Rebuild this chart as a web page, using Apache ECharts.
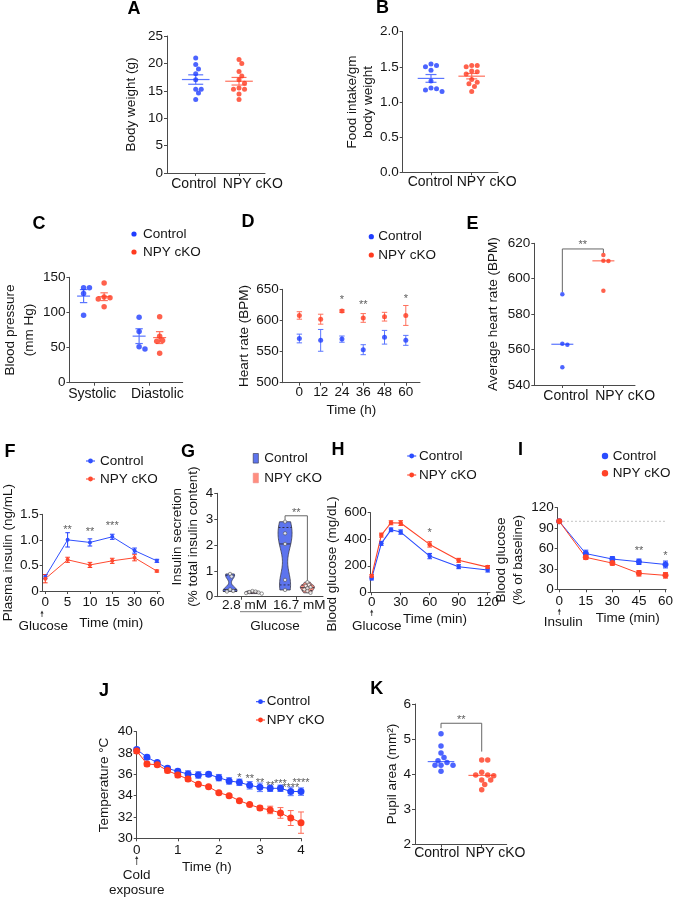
<!DOCTYPE html>
<html><head><meta charset="utf-8">
<script src="https://cdn.jsdelivr.net/npm/echarts@6/dist/echarts.min.js"></script>
<style>html,body{margin:0;padding:0;background:#fff}#c{width:676px;height:899px}</style>
</head><body><div id="c"></div>
<script>
// ================= DATA =================
const groupLabels = ['Control', 'NPY cKO'];
// A: body weight (g)
const aControl = [21.0, 19.8, 19.0, 18.1, 17.0, 15.3, 15.3, 14.6, 13.4];
const aNPY = [20.7, 20.0, 18.5, 17.7, 17.0, 16.4, 15.5, 15.3, 15.3, 14.4, 13.4];
// B: food intake / gm body weight
const bControl = [1.54, 1.52, 1.50, 1.45, 1.30, 1.20, 1.19, 1.17, 1.15];
const bNPY = [1.52, 1.52, 1.50, 1.44, 1.43, 1.40, 1.32, 1.28, 1.26, 1.22, 1.15];
// C: blood pressure (mm Hg)
const cCategories = ['Systolic', 'Diastolic'];
const cControlSys = [135, 135, 127, 96];
const cNPYSys = [142, 122, 121, 119, 108];
const cControlDia = [93, 73, 51, 48];
const cNPYDia = [94, 66, 60, 59, 42];
// D: heart rate (BPM) over time (h)
const dTime = [0, 12, 24, 36, 48, 60];
const dControl = [571, 568, 570, 553, 573, 568];
const dControlErr = [7, 17.5, 5, 8, 11, 8];
const dNPY = [608, 602, 615, 604, 606, 608];
const dNPYErr = [6, 8, 2, 7, 7, 16];
const dStarTime = [24, 36, 60];
const dStarY = [638, 629.6, 639];
const dStarText = ['*', '**', '*'];
// E: average heart rate (BPM)
const eControl = [591.2, 563.3, 562.7, 550.0];
const eNPY = [613.4, 610.2, 610.0, 593.2];
const eBracket = [616.8, 592.5, 614.5]; // top, control end, NPY end
const eStarY = 620.9;
// F: plasma insulin (ng/mL)
const fTimeLabels = ['0', '5', '10', '15', '30', '60'];
const fControl = [0.28, 1.00, 0.95, 1.06, 0.79, 0.59];
const fControlErr = [0.04, 0.14, 0.07, 0.05, 0.05, 0.03];
const fNPY = [0.24, 0.61, 0.51, 0.59, 0.65, 0.39];
const fNPYErr = [0.08, 0.05, 0.05, 0.05, 0.06, 0.02];
const fStarIdx = [1, 2, 3];
const fStarY = [1.258, 1.213, 1.337];
const fStarText = ['**', '**', '***'];
// G: insulin secretion (% total insulin content)
const gCategories = ['2.8 mM', '16.7 mM'];
const gControl28 = [0.88, 0.78, 0.28, 0.22, 0.20];
const gNPY28 = [0.22, 0.20, 0.18, 0.16, 0.14, 0.12];
const gControl167 = [2.90, 2.45, 2.04, 0.65, 0.26];
const gNPY167 = [0.56, 0.46, 0.42, 0.37, 0.33, 0.28, 0.22, 0.15];
const gBracket = [3.13, 2.97, 0.60];
const gStarY = 3.36;
// H: blood glucose (mg/dL), GTT
const hTime = [0, 10, 20, 30, 60, 90, 120];
const hControl = [105, 369, 471, 454, 273, 193, 168];
const hControlErr = [12, 15, 14, 16, 20, 15, 15];
const hNPY = [123, 431, 524, 522, 361, 241, 190];
const hNPYErr = [10, 15, 15, 18, 20, 15, 12];
const hStarTime = [60];
const hStarY = [469];
const hStarText = ['*'];
// I: blood glucose (% of baseline), ITT
const iTime = [0, 15, 30, 45, 60];
const iControl = [100, 52.5, 44.5, 40.5, 36.5];
const iControlErr = [1, 5, 3.5, 4, 5];
const iNPY = [100, 47, 38.5, 23.5, 20.5];
const iNPYErr = [1, 3, 3, 4, 4];
const iBaseline = 100;
const iStarTime = [45, 60];
const iStarY = [60.2, 53.7];
const iStarText = ['**', '*'];
// J: temperature (°C) during cold exposure
const jTime = [0, 0.25, 0.5, 0.75, 1, 1.25, 1.5, 1.75, 2, 2.25, 2.5, 2.75, 3, 3.25, 3.5, 3.75, 4];
const jControl = [38.34, 37.6, 37.1, 36.56, 36.28, 36.03, 35.94, 36.0, 35.69, 35.38, 35.25, 34.97, 34.78, 34.69, 34.69, 34.4, 34.38];
const jControlErr = [0.15, 0.2, 0.15, 0.2, 0.2, 0.3, 0.3, 0.2, 0.3, 0.3, 0.3, 0.35, 0.4, 0.3, 0.3, 0.4, 0.35];
const jNPY = [38.2, 36.97, 36.9, 36.35, 35.94, 35.56, 35.06, 34.84, 34.28, 34.0, 33.53, 33.16, 32.84, 32.66, 32.38, 31.9, 31.47];
const jNPYErr = [0.1, 0.2, 0.15, 0.2, 0.25, 0.2, 0.1, 0.1, 0.1, 0.1, 0.1, 0.1, 0.2, 0.35, 0.5, 0.7, 1.0];
const jStarTime = [2.5, 2.75, 3, 3.25, 3.5, 3.75, 4];
const jStarY = [35.9, 35.83, 35.45, 35.2, 35.42, 35.0, 35.49];
const jStarText = ['*', '**', '**', '**', '***', '****', '****'];
// K: pupil area (mm²)
const kControl = [5.15, 4.8, 4.6, 4.47, 4.38, 4.33, 4.25, 4.25, 4.25, 4.08];
const kNPY = [4.4, 4.4, 4.05, 3.97, 3.97, 3.95, 3.83, 3.83, 3.7, 3.55];
const kBracket = [5.45, 5.31, 4.64];
const kStarY = 5.64;

// ================= STYLE / HELPERS =================
const FONT = '"Liberation Sans", Arial, Helvetica, sans-serif';
const BLUE = '#1f3dff', RED = '#ff3a1f', BLUE_L = '#5a75ff', RED_L = '#ff705c';
const AXC = '#4a4a4a', TXT = '#151515', FS = 13.5;
const mean = a => a.reduce((s, v) => s + v, 0) / a.length;
const sd = a => { const m = mean(a); return Math.sqrt(a.reduce((s, v) => s + (v - m) * (v - m), 0) / (a.length - 1)); };
const sem = a => sd(a) / Math.sqrt(a.length);
function quantile(a, q) { const s = [...a].sort((x, y) => x - y); const pos = q * (s.length + 1) - 1; const lo = Math.max(0, Math.min(s.length - 1, Math.floor(pos))); const hi = Math.max(0, Math.min(s.length - 1, Math.ceil(pos))); const f = pos - Math.floor(pos); return s[lo] + (s[hi] - s[lo]) * f; }
const median = a => quantile(a, 0.5);
const padShift = s => s > 0 ? [0, 0, 0, 2 * s] : (s < 0 ? [0, -2 * s, 0, 0] : 0);

const grids = [], xAxes = [], yAxes = [], series = [], graphic = [];
function nameStyle(shift, lh) {
  return { fontFamily: FONT, fontSize: FS, color: TXT, lineHeight: lh || FS + 1.5, padding: padShift(shift) };
}
function panel(o) {
  const gi = grids.length;
  grids.push({ left: o.l, top: o.t, width: o.r - o.l, height: o.b - o.t, containLabel: false });
  const ls = { color: AXC, width: 1 };
  const xfs = o.xfs || FS;
  let fmt = o.xfmt || (v => String(v)), rich;
  if (o.xls) { // per-label horizontal nudges, as in the original figure
    rich = {};
    o.xls.forEach((s, i) => { rich['s' + i] = { fontFamily: FONT, fontSize: xfs, color: TXT, padding: padShift(s) }; });
    const base = fmt;
    fmt = v => { let i = 0, bd = Infinity; o.xticks.forEach((t, k) => { const d = Math.abs(t - v); if (d < bd) { bd = d; i = k; } }); return '{s' + i + '|' + base(v) + '}'; };
  }
  xAxes.push({ gridIndex: gi, type: 'value', min: o.xmin, max: o.xmax,
    axisLine: { show: true, onZero: false, lineStyle: ls },
    axisTick: { show: true, customValues: o.xticks, length: 3, lineStyle: ls },
    axisLabel: { show: true, customValues: o.xticks, formatter: fmt, rich, color: TXT, fontFamily: FONT, fontSize: xfs, margin: o.xm == null ? 3 : o.xm, hideOverlap: false, showMinLabel: true, showMaxLabel: true },
    splitLine: { show: false },
    name: o.xname || '', nameLocation: 'middle', nameGap: o.xgap || 20, nameTextStyle: nameStyle(o.xshift || 0) });
  yAxes.push({ gridIndex: gi, type: 'value', min: o.ymin, max: o.ymax, interval: o.yint,
    axisLine: { show: true, onZero: false, lineStyle: ls },
    axisTick: { show: true, length: 3, lineStyle: ls },
    axisLabel: { formatter: o.yfmt || (v => String(v)), color: TXT, fontFamily: FONT, fontSize: FS, margin: 4, showMinLabel: true, showMaxLabel: true },
    splitLine: { show: false },
    name: o.yname, nameLocation: 'middle', nameRotate: 90, nameGap: o.ygap, nameTextStyle: nameStyle(o.yshift || 0, o.ylh) });
  return { gi, pxX: (o.r - o.l) / (o.xmax - o.xmin), pxY: (o.b - o.t) / (o.ymax - o.ymin) };
}
// beeswarm layout: offsets points horizontally so that dots do not overlap
function swarm(values, center, P, diam) {
  const placed = [], out = [];
  values.forEach(v => {
    const py = v * P.pxY;
    let chosen = 0;
    for (let k = 0; k < 60; k++) {
      const off = k === 0 ? 0 : (k % 2 ? 1 : -1) * Math.ceil(k / 2) * diam * 0.6;
      if (placed.every(p => Math.hypot(p[0] - off, p[1] - py) >= diam)) { chosen = off; break; }
    }
    placed.push([chosen, py]);
    out.push([center + chosen / P.pxX, v]);
  });
  return out;
}
const ax = P => ({ xAxisIndex: P.gi, yAxisIndex: P.gi });
function L(x1, y1, x2, y2, st) { return { type: 'line', shape: { x1, y1, x2, y2 }, style: st }; }
function dots(P, pts, color, size, extra) {
  series.push(Object.assign({ type: 'scatter', ...ax(P), data: pts, symbol: 'circle', symbolSize: size, itemStyle: { color }, silent: true, z: 4 }, extra || {}));
}
function errBars(P, xs, ms, es, color, cap, lw) {
  series.push({ type: 'custom', ...ax(P), silent: true, z: 3, data: xs.map((x, i) => [x, ms[i], es[i]]),
    renderItem: (p, api) => {
      const x = api.value(0), m = api.value(1), e = api.value(2);
      const t = api.coord([x, m + e]), b = api.coord([x, m - e]);
      const st = { stroke: color, lineWidth: lw || 1, fill: null };
      return { type: 'group', children: [L(t[0], t[1], b[0], b[1], st), L(t[0] - cap, t[1], t[0] + cap, t[1], st), L(b[0] - cap, b[1], b[0] + cap, b[1], st)] };
    } });
}
function centerLine(P, xs, ms, color, half, lw) {
  series.push({ type: 'custom', ...ax(P), silent: true, z: 3, data: xs.map((x, i) => [x, ms[i]]),
    renderItem: (p, api) => {
      const c = api.coord([api.value(0), api.value(1)]);
      return L(c[0] - half, c[1], c[0] + half, c[1], { stroke: color, lineWidth: lw || 1.2 });
    } });
}
function meanSem(P, x, vals, color, half, cap) {
  centerLine(P, [x], [mean(vals)], color, half, 1.2);
  errBars(P, [x], [mean(vals)], [sem(vals)], color, cap, 1.2);
}
function stars(P, xs, ys, texts) {
  series.push({ type: 'scatter', ...ax(P), symbolSize: 0, silent: true, z: 6, clip: false,
    data: xs.map((x, i) => ({ value: [x, ys[i]], name: texts[i] })),
    label: { show: true, position: 'inside', formatter: '{b}', color: '#333', fontFamily: FONT, fontSize: 11, offset: [0, 3] } });
}
function bracket(P, x1, x2, yTop, y1, y2) {
  series.push({ type: 'custom', ...ax(P), silent: true, z: 5, clip: false, data: [[x1, x2, yTop, y1, y2]],
    encode: { x: [0, 1], y: [2, 3, 4] },
    renderItem: (p, api) => {
      const a = api.coord([api.value(0), api.value(3)]), b = api.coord([api.value(0), api.value(2)]);
      const c = api.coord([api.value(1), api.value(2)]), d = api.coord([api.value(1), api.value(4)]);
      return { type: 'polyline', shape: { points: [a, b, c, d] }, style: { stroke: '#666', lineWidth: 1, fill: null } };
    } });
}
function lineSeries(P, xs, ys, color, size, lw, name) {
  series.push({ type: 'line', name, ...ax(P), data: xs.map((x, i) => [x, ys[i]]), symbol: 'circle', symbolSize: size, showSymbol: true,
    lineStyle: { color, width: lw }, itemStyle: { color }, silent: true, z: 4 });
}
function profile(vals) {
  const n = vals.length, h = Math.max(0.55 * 1.06 * sd(vals) * Math.pow(n, -0.2), 0.03);
  const lo = Math.min(...vals), hi = Math.max(...vals), ys = [], ds = [];
  for (let i = 0; i <= 48; i++) { const y = lo + (hi - lo) * i / 48; ys.push(y); ds.push(vals.reduce((s, v) => s + Math.exp(-0.5 * ((y - v) / h) ** 2), 0)); }
  const mx = Math.max(...ds);
  return { ys, ws: ds.map(d => d / mx) };
}
function widthAt(pr, y) {
  for (let i = 0; i < pr.ys.length - 1; i++) if (y >= pr.ys[i] && y <= pr.ys[i + 1]) { const f = (y - pr.ys[i]) / ((pr.ys[i + 1] - pr.ys[i]) || 1); return pr.ws[i] + (pr.ws[i + 1] - pr.ws[i]) * f; }
  return 0;
}
function violins(P, groups, halfPx) {
  series.push({ type: 'custom', ...ax(P), silent: true, z: 3, data: groups.map(g => [g.x, median(g.vals)]),
    renderItem: (p, api) => {
      const g = groups[p.dataIndex], pr = profile(g.vals);
      const left = [], right = [];
      pr.ys.forEach((y, i) => { const c = api.coord([g.x, y]); const w = Math.max(pr.ws[i] * halfPx, 0.8); left.push([c[0] - w, c[1]]); right.unshift([c[0] + w, c[1]]); });
      const kids = [{ type: 'polygon', shape: { points: left.concat(right) }, style: { fill: g.fill, stroke: '#3a3a4a', lineWidth: 0.8 } }];
      [[0.25, [2, 2]], [0.5, null], [0.75, [2, 2]]].forEach(([q, dash]) => {
        const y = quantile(g.vals, q), c = api.coord([g.x, y]); const w = Math.max(widthAt(pr, y) * halfPx, 0.8);
        const st = { stroke: '#2a2a3a', lineWidth: 0.9 };
        if (dash) st.lineDash = dash;
        kids.push(L(c[0] - w, c[1], c[0] + w, c[1], st));
      });
      return { type: 'group', children: kids };
    } });
}
const catFmt = v => groupLabels[Math.round(v) - 1] || '';

// ================= PANELS =================
// A
const PA = panel({ l: 167, t: 36, r: 265, b: 173, xmin: 0.337, xmax: 2.6, xticks: [1, 2], xfmt: catFmt, xfs: 14, xm: 4, xls: [-1.9, 13.8],
  ymin: 0, ymax: 25, yint: 5, yname: 'Body weight (g)', ygap: 27.8 });
dots(PA, swarm(aControl, 1, PA, 4.6), BLUE, 5);
dots(PA, swarm(aNPY, 2, PA, 4.6), RED, 5);
meanSem(PA, 1, aControl, BLUE_L, 13.8, 7.5);
meanSem(PA, 2, aNPY, RED_L, 13.8, 7.5);
// B
const PB = panel({ l: 402.7, t: 31.7, r: 498, b: 172.3, xmin: 0.305, xmax: 2.646, xticks: [1, 2], xfmt: catFmt, xfs: 14, xm: 3, xls: [-0.7, 15],
  ymin: 0, ymax: 2, yint: 0.5, yfmt: v => v.toFixed(1), yname: 'Food intake/gm\nbody weight', ygap: 22.6, ylh: 15.6 });
dots(PB, swarm(bControl, 1, PB, 4.6), BLUE, 5);
dots(PB, swarm(bNPY, 2, PB, 4.6), RED, 5);
meanSem(PB, 1, bControl, BLUE_L, 13.3, 5.5);
meanSem(PB, 2, bNPY, RED_L, 13.3, 5.5);
// C
const cOff = 0.185;
const PC = panel({ l: 66.7, t: 277.3, r: 182.7, b: 382.7, xmin: -0.44, xmax: 1.6, xticks: [0, 1], xfmt: v => cCategories[Math.round(v)], xfs: 14, xm: 4, xls: [-1.6, 8],
  ymin: 0, ymax: 150, yint: 50, yname: 'Blood pressure\n(mm Hg)', ygap: 25.5, ylh: 19 });
dots(PC, swarm(cControlSys, 0 - cOff, PC, 5).concat(swarm(cControlDia, 1 - cOff, PC, 5)), BLUE, 5.5);
dots(PC, swarm(cNPYSys, 0 + cOff, PC, 5).concat(swarm(cNPYDia, 1 + cOff, PC, 5)), RED, 5.5);
meanSem(PC, 0 - cOff, cControlSys, BLUE_L, 6.5, 3.7);
meanSem(PC, 1 - cOff, cControlDia, BLUE_L, 6.5, 3.7);
meanSem(PC, 0 + cOff, cNPYSys, RED_L, 6.5, 3.7);
meanSem(PC, 1 + cOff, cNPYDia, RED_L, 6.5, 3.7);
// D
const PD = panel({ l: 282.7, t: 289.3, r: 420, b: 382.7, xmin: -9.4, xmax: 68, xticks: dTime, xm: 3,
  ymin: 500, ymax: 650, yint: 50, yname: 'Heart rate (BPM)', ygap: 29.5, xname: 'Time (h)', xgap: 20.5 });
errBars(PD, dTime, dControl, dControlErr, BLUE_L, 2.7, 1);
errBars(PD, dTime, dNPY, dNPYErr, RED_L, 2.7, 1);
dots(PD, dTime.map((t, i) => [t, dControl[i]]), BLUE, 5);
dots(PD, dTime.map((t, i) => [t, dNPY[i]]), RED, 5);
stars(PD, dStarTime, dStarY, dStarText);
// E
const PE = panel({ l: 534.3, t: 243.3, r: 635, b: 385, xmin: 0.317, xmax: 2.77, xticks: [1, 2], xfmt: catFmt, xfs: 14, xm: 4, xls: [3.5, 21.7],
  ymin: 540, ymax: 620, yint: 20, yname: 'Average heart rate (BPM)', ygap: 33.5 });
dots(PE, swarm(eControl, 1, PE, 4.2), BLUE, 4.5);
dots(PE, swarm(eNPY, 2, PE, 4.2), RED, 4.5);
centerLine(PE, [1], [median(eControl)], BLUE_L, 11, 1.2);
centerLine(PE, [2], [median(eNPY)], RED_L, 11, 1.2);
bracket(PE, 1, 2, eBracket[0], eBracket[1], eBracket[2]);
stars(PE, [1.5], [eStarY], ['**']);
// F
const PF = panel({ l: 39.3, t: 514.3, r: 160, b: 591, xmin: -0.118, xmax: 5.14, xticks: [0, 1, 2, 3, 4, 5], xfmt: v => fTimeLabels[Math.round(v)], xm: 4,
  ymin: 0, ymax: 1.5, yint: 0.5, yfmt: v => v === 0 ? '0' : v.toFixed(1), yname: 'Plasma insulin (ng/mL)', ygap: 24,
  xname: 'Time (min)', xgap: 25, xshift: 10 });
const fIdx = fTimeLabels.map((_, i) => i);
errBars(PF, fIdx, fControl, fControlErr, BLUE, 2.3, 1);
errBars(PF, fIdx, fNPY, fNPYErr, RED, 2.3, 1);
lineSeries(PF, fIdx, fControl, '#3050ff', 4, 1, 'Control');
lineSeries(PF, fIdx, fNPY, '#ff4a30', 4, 1, 'NPY cKO');
stars(PF, fStarIdx, fStarY, fStarText);
// G
const gOff = 0.203;
const PG = panel({ l: 217.3, t: 493.3, r: 323, b: 596.7, xmin: -0.435, xmax: 1.487, xticks: [0, 1], xfmt: v => gCategories[Math.round(v)], xm: 2, xls: [3.3, 3],
  ymin: 0, ymax: 4, yint: 1, yname: 'Insulin secretion\n(% total insulin content)', ygap: 10.7, ylh: 16.6, yshift: 8.3 });
const gGroups = [
  { x: 0 - gOff, vals: gControl28, fill: '#5d74ee' },
  { x: 0 + gOff, vals: gNPY28, fill: '#ff8e7e' },
  { x: 1 - gOff, vals: gControl167, fill: '#5d74ee' },
  { x: 1 + gOff, vals: gNPY167, fill: '#ff8e7e' }];
violins(PG, gGroups, 7);
gGroups.forEach(g => dots(PG, swarm(g.vals, g.x, PG, 2.6), '#ffffff', 3.4, { itemStyle: { color: '#ffffff', borderColor: '#555', borderWidth: 0.8 }, z: 5 }));
bracket(PG, 1 - gOff, 1 + gOff, gBracket[0], gBracket[1], gBracket[2]);
stars(PG, [1], [gStarY], ['**']);
// H
const PH = panel({ l: 370.7, t: 512.7, r: 490, b: 592.3, xmin: -1, xmax: 122.4, xticks: [0, 30, 60, 90, 120], xm: 3,
  ymin: 0, ymax: 600, yint: 200, yname: 'Blood glucose (mg/dL)', ygap: 28.2, yshift: -11.5,
  xname: 'Time (min)', xgap: 19.5, xshift: 4.7 });
errBars(PH, hTime, hControl, hControlErr, BLUE, 2.3, 1);
errBars(PH, hTime, hNPY, hNPYErr, RED, 2.3, 1);
lineSeries(PH, hTime, hControl, '#2a4cff', 4.5, 1.1, 'Control');
lineSeries(PH, hTime, hNPY, '#ff4328', 4.5, 1.1, 'NPY cKO');
stars(PH, hStarTime, hStarY, hStarText);
// I
const PI = panel({ l: 557.7, t: 507.7, r: 670.7, b: 589.3, xmin: -0.87, xmax: 60.4, xticks: [0, 15, 30, 45, 60], xm: 5,
  ymin: 0, ymax: 120, yint: 30, yname: 'Blood glucose\n(% of baseline)', ygap: 19, ylh: 17.3, yshift: -11.5,
  xname: 'Time (min)', xgap: 21.5, xshift: 15.8 });
series.push({ type: 'line', ...ax(PI), data: [[iTime[0], iBaseline], [iTime[iTime.length - 1], iBaseline]], symbol: 'none', silent: true, z: 2,
  lineStyle: { color: '#b0b0b0', width: 1, type: [1.5, 2.5] } });
errBars(PI, iTime, iControl, iControlErr, BLUE, 2.5, 1);
errBars(PI, iTime, iNPY, iNPYErr, RED, 2.5, 1);
lineSeries(PI, iTime, iControl, '#2a4cff', 6, 1, 'Control');
lineSeries(PI, iTime, iNPY, '#ff4328', 6, 1, 'NPY cKO');
stars(PI, iStarTime, iStarY, iStarText);
// J
const PJ = panel({ l: 136.7, t: 731.7, r: 301, b: 838.3, xmin: 0, xmax: 4, xticks: [0, 1, 2, 3, 4], xm: 4.5,
  ymin: 30, ymax: 40, yint: 2, yname: 'Temperature °C', ygap: 25.2, xname: 'Time (h)', xgap: 21, xshift: -12 });
errBars(PJ, jTime, jControl, jControlErr, '#5a78ff', 3, 1);
errBars(PJ, jTime, jNPY, jNPYErr, '#ff6a55', 3, 1);
lineSeries(PJ, jTime, jControl, '#2446ff', 7, 1, 'Control');
lineSeries(PJ, jTime, jNPY, '#ff3a1f', 7, 1, 'NPY cKO');
stars(PJ, jStarTime, jStarY, jStarText);
// K
const PK = panel({ l: 415, t: 704, r: 506.7, b: 844, xmin: 0.361, xmax: 2.614, xticks: [1, 2], xfmt: catFmt, xfs: 14, xm: 2.5, xls: [-4.3, 13.8],
  ymin: 2, ymax: 6, yint: 1, yname: 'Pupil area (mm²)', ygap: 14.2 });
dots(PK, swarm(kControl, 1, PK, 5), BLUE, 5.5);
dots(PK, swarm(kNPY, 2, PK, 5), RED, 5.5);
centerLine(PK, [1], [median(kControl)], BLUE_L, 13.3, 1.2);
centerLine(PK, [2], [median(kNPY)], RED_L, 13.3, 1.2);
bracket(PK, 1, 2, kBracket[0], kBracket[1], kBracket[2]);
stars(PK, [1.5], [kStarY], ['**']);

// ================= ANNOTATIONS (layout) =================
function txt(x, y, s, opt) {
  opt = opt || {};
  graphic.push({ type: 'text', x, y, silent: true, z: 10, style: { text: s, fill: opt.fill || TXT,
    font: (opt.bold ? 'bold ' : '') + (opt.size || FS) + 'px ' + FONT,
    align: opt.align || 'center', verticalAlign: 'middle', textAlign: opt.align || 'center', textVerticalAlign: 'middle' } });
}
[['A', 134, 9], ['B', 382.5, 8.5], ['C', 39, 224], ['D', 248, 222], ['E', 472.5, 223.7], ['F', 10, 452.5],
 ['G', 188, 452], ['H', 338, 450], ['I', 520.5, 450], ['J', 104, 691], ['K', 376.7, 689]]
  .forEach(([s, x, y]) => txt(x, y, s, { bold: true, size: 18, fill: '#000' }));
function legend(x, y, dy, kind, colors, fills, tx) {
  groupLabels.forEach((lab, i) => {
    const yy = y + i * dy, c = colors ? colors[i] : null;
    if (kind === 'dot') graphic.push({ type: 'circle', shape: { cx: x, cy: yy, r: 2.6 }, style: { fill: c }, silent: true });
    if (kind === 'bigdot') graphic.push({ type: 'circle', shape: { cx: x, cy: yy, r: 3.2 }, style: { fill: c }, silent: true });
    if (kind === 'line') {
      graphic.push({ type: 'line', shape: { x1: x - 4.5, y1: yy, x2: x + 4.5, y2: yy }, style: { stroke: c, lineWidth: 1.1 }, silent: true });
      graphic.push({ type: 'circle', shape: { cx: x, cy: yy, r: 2.4 }, style: { fill: c }, silent: true });
    }
    if (kind === 'rect') graphic.push({ type: 'rect', shape: { x: x - 2.6, y: yy - 4.8, width: 5.2, height: 9.6 }, style: { fill: fills[i], stroke: i ? '#e88' : '#334', lineWidth: 0.6 }, silent: true });
    txt(tx, yy, lab, { align: 'left' });
  });
}
legend(134, 234, 18, 'dot', [BLUE, RED], null, 143);
legend(371.3, 236.7, 18.3, 'dot', [BLUE, RED], null, 378.3);
legend(90.5, 461, 18, 'line', ['#3050ff', '#ff4a30'], null, 100);
legend(255.8, 458.3, 19.7, 'rect', null, ['#5d74ee', '#ff8e7e'], 264.3);
legend(411.7, 456, 19, 'line', ['#2a4cff', '#ff4328'], null, 419);
legend(605, 456, 17.3, 'bigdot', ['#2a4cff', '#ff4328'], null, 612.7);
legend(260.5, 701.7, 18.3, 'line', ['#2446ff', '#ff3a1f'], null, 266.7);
function arrow(x, yTop, yBot) {
  graphic.push({ type: 'line', shape: { x1: x, y1: yTop + 2, x2: x, y2: yBot }, style: { stroke: '#333', lineWidth: 0.8 }, silent: true });
  graphic.push({ type: 'polygon', shape: { points: [[x, yTop], [x - 1.6, yTop + 3], [x + 1.6, yTop + 3]] }, style: { fill: '#333' }, silent: true });
}
arrow(42, 610.5, 617); txt(43.3, 626, 'Glucose');
arrow(371.7, 609.5, 616); txt(376.7, 626.7, 'Glucose');
arrow(559.3, 608.5, 615); txt(563.3, 622.7, 'Insulin');
arrow(136.7, 856, 865); txt(136.7, 875, 'Cold'); txt(136.7, 890.7, 'exposure');
graphic.push({ type: 'line', shape: { x1: 240, y1: 611.7, x2: 301.7, y2: 611.7 }, style: { stroke: '#555', lineWidth: 0.8 }, silent: true });
txt(275, 626, 'Glucose');

const chart = echarts.init(document.getElementById('c'), null, { renderer: 'canvas' });
chart.setOption({ animation: false, backgroundColor: '#fff', grid: grids, xAxis: xAxes, yAxis: yAxes, series, graphic });
</script></body></html>
